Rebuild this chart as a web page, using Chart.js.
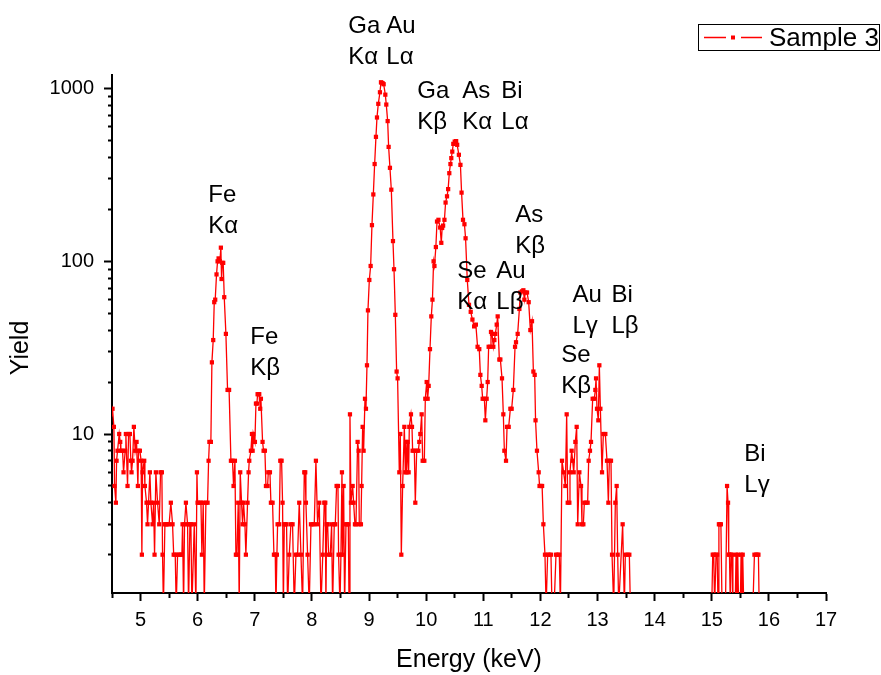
<!DOCTYPE html>
<html>
<head>
<meta charset="utf-8">
<title>Sample 3 – XRF spectrum</title>
<script src="https://cdn.jsdelivr.net/npm/chart.js@4.4.1/dist/chart.umd.min.js"></script>
<style>
  html, body { margin: 0; padding: 0; background: #ffffff; }
  #wrap { width: 881px; height: 675px; }
</style>
</head>
<body>
<div id="wrap"><canvas id="spectrum" width="881" height="675"></canvas></div>
<script>
// Measured counts per energy bin, as [energy (keV), counts].
// Bins with no counts are stored as 1 so they fall below the log axis floor.
const lowEnergyBand = [
  [4.48,13],[4.509,14],[4.533,11],[4.545,5],[4.568,4],[4.58,7],[4.597,8],[4.626,10],[4.644,9],[4.655,8],
  [4.685,8],[4.702,6],[4.731,8],[4.743,10],[4.772,5],[4.79,10],[4.813,10],[4.83,7],[4.842,6],[4.86,7],
  [4.883,11],[4.906,8],[4.93,9],[4.953,5],[4.965,8],[4.988,8],[5.01,7],[5.023,2],[5.035,6],[5.064,7],
  [5.076,5],[5.105,4],[5.122,3],[5.14,4],[5.163,6],[5.181,4],[5.21,3],[5.228,4],[5.245,2],[5.268,6],
  [5.298,4],[5.327,3],[5.35,6],[5.373,6],[5.385,2],[5.40,1],[5.426,3],[5.44,3],[5.47,3],[5.50,3],
  [5.53,4],[5.56,3],[5.58,2],[5.607,2],[5.624,1],[5.648,2],[5.677,2],[5.706,2],[5.724,2],[5.735,3],
  [5.753,1],[5.77,3],[5.794,4],[5.823,3],[5.84,1],[5.864,3],[5.881,3],[5.899,1],[5.94,3],[5.969,1],
  [5.987,6],[5.998,4],[6.027,4],[6.057,4],[6.074,2],[6.097,4],[6.115,1],[6.144,4],[6.173,4],[6.191,7],
  [6.205,9],[6.231,9]
];
const ironBand = [
  [6.249,26],[6.272,35],[6.29,58],[6.307,60],[6.33,84],[6.348,100],[6.366,104],[6.389,100],[6.406,120],[6.418,79],
  [6.43,98],[6.447,98],[6.465,62],[6.494,38],[6.523,18],[6.55,18],[6.582,7],[6.61,7],[6.628,5],[6.652,7],
  [6.669,2],[6.687,2],[6.71,4],[6.727,1],[6.745,6],[6.768,4],[6.786,3],[6.803,4],[6.827,3],[6.844,2],
  [6.873,4],[6.891,6],[6.903,7],[6.932,8],[6.95,10],[6.962,8],[6.973,10],[7.002,9],[7.02,15],[7.037,15],
  [7.049,17],[7.066,17],[7.078,17],[7.095,14],[7.107,16],[7.136,9],[7.154,8],[7.177,8],[7.195,5],[7.224,5],
  [7.236,6],[7.265,6],[7.282,4],[7.311,4],[7.335,2],[7.358,2],[7.37,1],[7.387,2],[7.399,3],[7.428,3],
  [7.446,7],[7.469,7],[7.486,4],[7.50,1],[7.516,3],[7.533,3],[7.556,3],[7.574,1],[7.603,2],[7.632,3],
  [7.661,3],[7.691,1],[7.72,2],[7.749,2],[7.778,4],[7.808,2],[7.837,1],[7.866,6],[7.883,6],[7.895,4],
  [7.924,2],[7.953,1],[7.983,3],[8.012,3],[8.041,3],[8.07,7],[8.099,3],[8.129,4],[8.158,1],[8.19,2],
  [8.216,4],[8.234,4],[8.245,1]
];
const galliumBand = [
  [8.257,3],[8.275,3],[8.292,2],[8.321,2],[8.345,3],[8.362,1],[8.391,3],[8.409,3],[8.432,5],[8.456,5],
  [8.467,2],[8.491,1],[8.508,2],[8.526,6],[8.537,2],[8.555,5],[8.572,1],[8.596,3],[8.613,3],[8.637,3],
  [8.65,1],[8.666,13],[8.683,4],[8.713,5],[8.73,4],[8.753,3],[8.771,3],[8.80,9],[8.818,8],[8.829,3],
  [8.858,3],[8.87,5],[8.888,11],[8.905,8],[8.929,16],[8.946,14],[8.964,25],[8.981,52],[9.005,78],[9.028,94],
  [9.051,162],[9.075,244],[9.098,366],[9.121,526],[9.139,681],[9.162,817],[9.191,953],[9.209,1089],[9.222,1080],[9.238,1075],
  [9.256,1061],[9.285,923],[9.302,809],[9.326,649],[9.343,460],[9.366,348],[9.39,260],[9.419,131],[9.437,90],[9.46,49],
  [9.483,23],[9.50,21]
];
const arsenicBand = [
  [9.53,6],[9.547,10],[9.565,2],[9.588,5],[9.618,11],[9.635,6],[9.647,9],[9.658,6],[9.676,9],[9.693,6],
  [9.705,11],[9.734,13],[9.752,11],[9.763,8],[9.793,8],[9.81,4],[9.834,8],[9.863,8],[9.88,9],[9.898,10],
  [9.921,13],[9.939,7],[9.968,7],[9.985,16],[10.009,20],[10.026,16],[10.044,19],[10.067,31],[10.09,48],[10.11,60],
  [10.13,100],[10.145,94],[10.17,121],[10.19,170],[10.215,174],[10.245,157],[10.265,128],[10.28,156],[10.297,161],[10.32,174],
  [10.34,219],[10.365,238],[10.385,262],[10.405,324],[10.425,366],[10.44,396],[10.457,432],[10.475,479],[10.5,494],[10.525,497],
  [10.543,473],[10.573,414],[10.6,362],[10.62,250],[10.645,174],[10.67,164],[10.69,136],[10.72,78],[10.75,56],[10.78,51],
  [10.81,46],[10.84,42],[10.87,43],[10.9,32],[10.93,31],[10.949,22],[10.972,19],[10.989,16],[11.019,16],[11.036,12],
  [11.059,16],[11.077,20],[11.094,32],[11.118,32],[11.135,39],[11.153,38],[11.176,32],[11.194,35],[11.211,38],[11.235,43],
  [11.252,48],[11.281,27],[11.299,27],[11.328,21],[11.351,13],[11.369,8],[11.398,7],[11.416,11],[11.445,11],[11.474,14],
  [11.497,14],[11.526,18],[11.556,32],[11.573,34],[11.602,38],[11.632,53],[11.649,66],[11.678,67],[11.702,68],[11.719,60],
  [11.737,66],[11.766,66],[11.795,58],[11.824,40],[11.853,45],[11.877,23],[11.9,22],[11.915,12],[11.94,8],[11.97,6],
  [11.985,5],[12.01,5],[12.03,5],[12.052,3],[12.08,2]
];
const seleniumBand = [
  [12.10,1],[12.127,2],[12.156,2],[12.185,2],[12.203,1],[12.24,1],[12.273,2],[12.302,2],[12.331,2],[12.35,1],
  [12.378,7],[12.407,6],[12.437,5],[12.46,13],[12.478,4],[12.507,4],[12.518,6],[12.547,8],[12.565,7],[12.583,6],
  [12.612,9],[12.635,11],[12.653,3],[12.682,6],[12.711,5],[12.728,3],[12.752,3],[12.769,4],[12.798,4],[12.827,4],
  [12.845,7],[12.868,8],[12.886,9],[12.915,16],[12.944,16],[12.962,18],[12.974,21],[12.991,14],[13.014,12],[13.032,25],
  [13.05,14],[13.079,6],[13.102,10],[13.137,10],[13.166,7],[13.19,4],[13.207,7],[13.236,7],[13.254,2],[13.283,1],
  [13.312,4],[13.335,5],[13.353,2],[13.371,1],[13.44,3],[13.47,1],[13.487,2],[13.528,2],[13.557,2],[13.575,1],
  [14.3,1],[15.0,1]
];
const bismuthBand = [
  [15.017,2],[15.035,2],[15.05,1],[15.075,2],[15.095,2],[15.11,1],[15.125,3],[15.14,3],[15.16,3],[15.18,1],
  [15.24,1],[15.268,5],[15.285,4],[15.297,2],[15.31,2],[15.325,1],[15.338,2],[15.355,2],[15.37,1],[15.41,1],
  [15.425,2],[15.44,1],[15.455,2],[15.47,1],[15.50,1],[15.513,2],[15.528,1],[15.542,2],[15.56,1],[15.72,1],
  [15.747,2],[15.776,2],[15.80,2],[15.817,2],[15.83,1],[17.0,1]
];

// Axis ticks
const xMajorTicks = [5, 6, 7, 8, 9, 10, 11, 12, 13, 14, 15, 16, 17];
const xMinorTicks = [4.5, 5.5, 6.5, 7.5, 8.5, 9.5, 10.5, 11.5, 12.5, 13.5, 14.5, 15.5, 16.5];
const yMajorTicks = [10, 100, 1000];
const yMinorTicks = [2, 3, 4, 5, 6, 7, 8, 9, 20, 30, 40, 50, 60, 70, 80, 90, 200, 300, 400, 500, 600, 700, 800, 900];

// Emission line labels: element, line, anchor energy (keV) and yield of the first text line
const lineLabels = [
  ['Ga', 'Kα', 8.637, 2099], ['Au', 'Lα', 9.302, 2099],
  ['Ga', 'Kβ', 9.845, 884], ['As', 'Kα', 10.633, 884], ['Bi', 'Lα', 11.316, 884],
  ['Fe', 'Kα', 6.185, 221],
  ['Fe', 'Kβ', 6.920, 33],
  ['As', 'Kβ', 11.561, 170],
  ['Se', 'Kα', 10.546, 80.5], ['Au', 'Lβ', 11.229, 80.5],
  ['Au', 'Lγ', 12.560, 58.5], ['Bi', 'Lβ', 13.243, 58.5],
  ['Se', 'Kβ', 12.367, 26],
  ['Bi', 'Lγ', 15.570, 6.95]
];

const seriesName = 'Sample 3';
const yTitle = 'Yield';
const FONT = "'Liberation Sans', Arial, Helvetica, sans-serif";
const RED = '#ff0000';

const points = [].concat(lowEnergyBand, ironBand, galliumBand, arsenicBand, seleniumBand, bismuthBand)
  .map(([e, c]) => ({ x: e, y: c }));

const minorOf = (list) => (ctx) => (ctx.tick && list.includes(ctx.tick.value));

// Element labels drawn next to their peaks
const lineLabelPlugin = {
  id: 'lineLabels',
  afterDatasetsDraw(chart) {
    const { ctx, scales: { x, y } } = chart;
    ctx.save();
    ctx.fillStyle = '#000';
    ctx.font = `24px ${FONT}`;
    ctx.textAlign = 'left';
    ctx.textBaseline = 'alphabetic';
    lineLabels.forEach(([el, line, e, v]) => {
      const px = x.getPixelForValue(e);
      const py = y.getPixelForValue(v);
      ctx.fillText(el, px, py);
      ctx.fillText(line, px, py + 31);
    });
    ctx.restore();
  }
};

// Vertical axis title, set a little below the middle of the axis
const yTitlePlugin = {
  id: 'yTitle',
  afterDraw(chart) {
    const { ctx, chartArea } = chart;
    ctx.save();
    ctx.translate(21, (chartArea.top + chartArea.bottom) / 2 + 14);
    ctx.rotate(-Math.PI / 2);
    ctx.fillStyle = '#000';
    ctx.font = `25px ${FONT}`;
    ctx.textAlign = 'center';
    ctx.textBaseline = 'middle';
    ctx.fillText(yTitle, 0, 0);
    ctx.restore();
  }
};

// Boxed legend in the top-right corner
const legendPlugin = {
  id: 'boxLegend',
  afterDraw(chart) {
    const ctx = chart.ctx;
    const ds = chart.data.datasets[0];
    ctx.save();
    ctx.strokeStyle = '#000';
    ctx.lineWidth = 1;
    ctx.strokeRect(698.5, 24.5, 181, 26);
    ctx.strokeStyle = ds.borderColor;
    ctx.lineWidth = 1.3;
    ctx.beginPath();
    ctx.moveTo(704, 37.5); ctx.lineTo(726, 37.5);
    ctx.moveTo(741, 37.5); ctx.lineTo(762, 37.5);
    ctx.stroke();
    ctx.fillStyle = ds.pointBackgroundColor;
    ctx.fillRect(731, 35.5, 4, 4);
    ctx.fillStyle = '#000';
    ctx.font = `26px ${FONT}`;
    ctx.textAlign = 'left';
    ctx.textBaseline = 'middle';
    ctx.fillText(ds.label, 769, 38.5);
    ctx.restore();
  }
};

new Chart(document.getElementById('spectrum'), {
  type: 'line',
  data: {
    datasets: [{
      label: seriesName,
      data: points,
      borderColor: RED,
      backgroundColor: RED,
      borderWidth: 1.3,
      tension: 0,
      fill: false,
      pointStyle: 'rect',
      pointRadius: 3,
      pointBorderWidth: 0,
      pointBackgroundColor: RED,
      pointHoverRadius: 3
    }]
  },
  options: {
    responsive: false,
    animation: false,
    devicePixelRatio: 1,
    events: [],
    layout: { padding: { left: 0, top: 75, right: 55, bottom: 0 } },
    plugins: { legend: { display: false }, tooltip: { enabled: false }, title: { display: false } },
    scales: {
      x: {
        type: 'linear',
        min: 4.5,
        max: 17,
        afterBuildTicks: (s) => { s.ticks = xMinorTicks.concat(xMajorTicks).sort((a, b) => a - b).map(v => ({ value: v })); },
        afterFit: (s) => { s.height = 82; },
        ticks: {
          autoSkip: false,
          maxRotation: 0,
          padding: 7,
          color: '#000',
          font: { family: FONT, size: 20 },
          callback: (v) => (xMajorTicks.includes(v) ? String(v) : '')
        },
        grid: {
          drawOnChartArea: false,
          drawTicks: true,
          tickLength: 8,
          tickWidth: 2,
          tickColor: '#000',
          tickBorderDash: (c) => (minorOf(xMinorTicks)(c) ? [4, 100] : [])
        },
        border: { display: true, color: '#000', width: 2 },
        title: {
          display: true,
          text: 'Energy (keV)',
          color: '#000',
          font: { family: FONT, size: 25 },
          padding: { top: 0, bottom: 0 }
        }
      },
      y: {
        type: 'logarithmic',
        min: 1.2,
        max: 1200,
        afterBuildTicks: (s) => { s.ticks = yMinorTicks.concat(yMajorTicks).sort((a, b) => a - b).map(v => ({ value: v })); },
        afterFit: (s) => { s.width = 112; },
        ticks: {
          autoSkip: false,
          padding: 10,
          color: '#000',
          font: { family: FONT, size: 20 },
          callback: (v) => (yMajorTicks.includes(v) ? String(v) : '')
        },
        grid: {
          drawOnChartArea: false,
          drawTicks: true,
          tickLength: 8,
          tickWidth: 2,
          tickColor: '#000',
          tickBorderDash: (c) => (minorOf(yMinorTicks)(c) ? [0, 4, 4, 100] : [])
        },
        border: { display: true, color: '#000', width: 2 },
        title: { display: false }
      }
    }
  },
  plugins: [lineLabelPlugin, yTitlePlugin, legendPlugin]
});
</script>
</body>
</html>
